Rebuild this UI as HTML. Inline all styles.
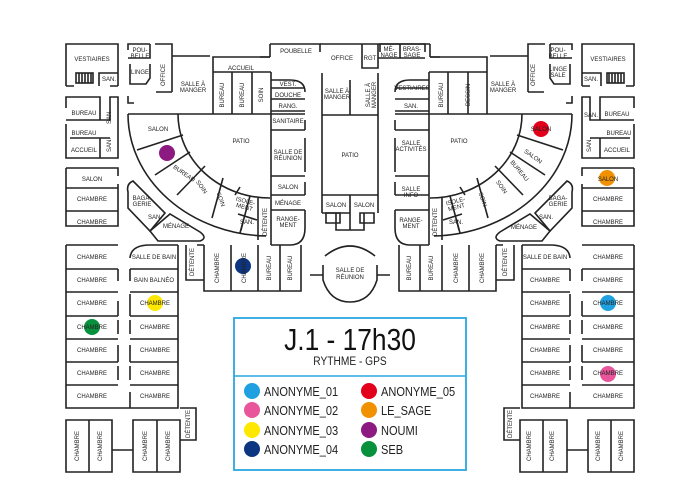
<!DOCTYPE html>
<html><head><meta charset="utf-8"><style>
html,body{margin:0;padding:0;background:#fff}
svg{display:block}
.w{fill:none;stroke:#222;stroke-width:1.6}
text{font-family:"Liberation Sans",sans-serif;fill:#222}
.l{font-size:6px;text-anchor:middle}
</style></head><body>
<svg width="700" height="500" viewBox="0 0 700 500" xmlns="http://www.w3.org/2000/svg">
<defs>
<g id="half">
 <path class="w" d="M66,86 V44 H118 V86 M66,86 H74 M118,86 H110 M99,86 V73 H118"/>
 <rect class="w" x="76" y="73" width="17" height="10"/>
 <path class="w" d="M79,73 V83 M82,73 V83 M85,73 V83 M88,73 V83 M91,73 V83"/>
 <path class="w" d="M128,50 V44 H150 M155,44 H172 V92 M128,58 H150 V44 M130,64 V84 H146 L150,78 V64 M128,96 V103 H134 M172,92 H156 M172,56 H210"/>
 <path class="w" d="M66,108 V97 H100 V120 H110 V97 H118 V158 H100 V138 H110 M100,120 H66 M66,124 V158 H100 M70,138 H100 M66,138 V140"/>
 <path class="w" d="M66,168 H118 V176 M118,184 V226 H66 V168 M66,188 H118 M66,211 H118"/>
 <path class="w" d="M128,114 H305 M213,114 V57 H270 M232,72 V114 M252,72 V114 M271,72 V245 M271,72 H213"/>
 <path class="w" d="M271,80 H290 Q305,80 305,92 M271,99 H305 M271,88 H305 M271,111 H305 M271,130 H305 M305,120 V130 M305,138 V172 M271,176 H305 M305,182 V195 M271,195 H305 M271,210 H305 M305,210 V228 Q305,245 290,245 H271"/>
 <path class="w" d="M270,44 H320 V52 M270,44 V57 M270,57 H260"/>
 <path class="w" d="M178,114 A92,84 0 0 0 270,198"/>
 <path class="w" d="M128,114 A142,122 0 0 0 266,236"/>
 <path class="w" d="M183,135 L137,150 M190,152 L155,175 M205,166 L177,195 M223,178 L212,218 M240,187 L235,195 M250,196 L240,233 M258,198 V240"/>
 <path class="w" d="M238,214 L257,220 M243,222 L241,230"/>
 <path class="w" d="M133,181 Q126,184 128,192 V208 L150,231 L165,213 L133,181 Z"/>
 <path class="w" d="M150,231 L158,241 H200 Q208,238 200,232 L170,214 Z"/>
 <path class="w" d="M66,245 H118 M66,245 V408 H178 V245 M66,269 H118 M66,292 H118 M66,316 H118 M66,339 H118 M66,362 H118 M66,385 H118 M118,269 V281 M118,301 V316 M118,320 V334 M118,345 V362 M118,366 V380 M130,269 V281 M130,294 V316 M130,320 V334 M130,345 V362 M130,366 V380 M130,392 V408 M130,269 H178 M130,292 H178 M130,316 H178 M130,339 H178 M130,362 H178 M130,385 H178 M130,258 Q131,245 150,245 H178"/>
 <path class="w" d="M66,420 H112 V472 H66 Z M89,420 V472 M133,420 H180 V472 H133 Z M157,420 V472 M112,450 H133 M180,408 H196 V440 H180"/>
 <path class="w" d="M186,245 V280 H204 M204,245 V291 H301 V245 M231,245 V291 M258,245 V291 M280,245 V291 M197,245 H204"/>
</g>
</defs>
<use href="#half"/>
<use href="#half" transform="translate(700,0) scale(-1,1)"/>
<path class="w" d="M320,44 H425 V52 M362,44 V68 H378 V44 M378,58 H425 M400,44 V58 M322,73 V195 M378,73 V195 M322,115 H378 M350,80 V115 M322,195 H378 V213 M322,195 V213 M350,195 V213 H322 M336,213 V230 H364 V213 M350,213 V230"/>
<path class="w" d="M326,213 h14 v10 h-14z M360,213 h14 v10 h-14z"/>
<path class="w" d="M325,256 Q350,236 375,256 M323,265 V280 Q330,302 350,302 Q370,302 377,280 V265 M310,275 H323 M377,275 H390"/>
<rect x="234" y="318" width="232" height="152" fill="none" stroke="#29a8e0" stroke-width="1.8"/>
<line x1="234" y1="376" x2="466" y2="376" stroke="#29a8e0" stroke-width="1.5"/>
<text x="350" y="350" font-size="31" text-anchor="middle" transform="translate(350,0) scale(0.85,1) translate(-350,0)" style="fill:#111">J.1 - 17h30</text>
<text x="350" y="365" font-size="12" text-anchor="middle" transform="translate(350,0) scale(0.85,1) translate(-350,0)">RYTHME - GPS</text>
<g font-size="13">
<circle cx="252" cy="391" r="8" fill="#1fa0e0"/><text x="264" y="396" transform="translate(264,0) scale(0.85,1) translate(-264,0)">ANONYME_01</text>
<circle cx="252" cy="410" r="8" fill="#e8559a"/><text x="264" y="415" transform="translate(264,0) scale(0.85,1) translate(-264,0)">ANONYME_02</text>
<circle cx="252" cy="430" r="8" fill="#ffe800"/><text x="264" y="435" transform="translate(264,0) scale(0.85,1) translate(-264,0)">ANONYME_03</text>
<circle cx="252" cy="449" r="8" fill="#0c3682"/><text x="264" y="454" transform="translate(264,0) scale(0.85,1) translate(-264,0)">ANONYME_04</text>
<circle cx="369" cy="391" r="8" fill="#e3001b"/><text x="381" y="396" transform="translate(381,0) scale(0.85,1) translate(-381,0)">ANONYME_05</text>
<circle cx="369" cy="410" r="8" fill="#f29100"/><text x="381" y="415" transform="translate(381,0) scale(0.85,1) translate(-381,0)">LE_SAGE</text>
<circle cx="369" cy="430" r="8" fill="#8c1a80"/><text x="381" y="435" transform="translate(381,0) scale(0.85,1) translate(-381,0)">NOUMI</text>
<circle cx="369" cy="449" r="8" fill="#07913c"/><text x="381" y="454" transform="translate(381,0) scale(0.85,1) translate(-381,0)">SEB</text>
</g>
<circle cx="167" cy="153" r="8" fill="#8c1a80"/>
<circle cx="541" cy="129" r="8" fill="#e3001b"/>
<circle cx="607" cy="178" r="8" fill="#f29100"/>
<circle cx="243" cy="266" r="8" fill="#0c3682"/>
<circle cx="155" cy="303" r="8" fill="#ffe800"/>
<circle cx="92" cy="327" r="8" fill="#07913c"/>
<circle cx="608" cy="303" r="8" fill="#1fa0e0"/>
<circle cx="608" cy="374" r="8" fill="#e8559a"/>
<g class="l">
<text x="92" y="61">VESTIAIRES</text><text x="109" y="81">SAN.</text>
<text x="140" y="52">POU-</text><text x="140" y="58">BELLE</text><text x="140" y="74">LINGE</text>
<text x="193" y="86">SALLE À</text><text x="193" y="92">MANGER</text>
<text x="241" y="70">ACCUEIL</text><text x="296" y="53">POUBELLE</text>
<text x="288" y="86">VEST.</text><text x="288" y="97">DOUCHE</text><text x="288" y="108">RANG.</text>
<text x="288" y="123">SANITAIRE</text><text x="288" y="154">SALLE DE</text><text x="288" y="160">RÉUNION</text>
<text x="288" y="189">SALON</text><text x="288" y="205">MÉNAGE</text><text x="288" y="221">RANGE-</text><text x="288" y="227">MENT</text>
<text x="84" y="115">BUREAU</text><text x="84" y="135">BUREAU</text><text x="84" y="152">ACCUEIL</text>
<text x="92" y="181">SALON</text><text x="92" y="201">CHAMBRE</text><text x="92" y="224">CHAMBRE</text>
<text x="158" y="131">SALON</text><text x="241" y="143">PATIO</text>
<text x="142" y="200">BAGA-</text><text x="142" y="206">GERIE</text><text x="176" y="228">MÉNAGE</text>
<text x="342" y="60">OFFICE</text><text x="370" y="60">RGT</text><text x="389" y="51">MÉ-</text><text x="389" y="57">NAGE</text>
<text x="412" y="51">BRAS-</text><text x="412" y="57">SAGE</text>
<text x="337" y="93">SALLE À</text><text x="337" y="99">MANGER</text><text x="350" y="157">PATIO</text>
<text x="336" y="207">SALON</text><text x="364" y="207">SALON</text>
<text x="350" y="272">SALLE DE</text><text x="350" y="279">RÉUNION</text>
<text x="412" y="90">VESTIAIRES</text><text x="411" y="108">SAN.</text>
<text x="411" y="145">SALLE</text><text x="411" y="151">ACTIVITÉS</text><text x="411" y="191">SALLE</text><text x="411" y="197">INFO</text>
<text x="411" y="222">RANGE-</text><text x="411" y="228">MENT</text>
<text x="503" y="86">SALLE À</text><text x="503" y="92">MANGER</text><text x="459" y="143">PATIO</text>
<text x="558" y="52">POU-</text><text x="558" y="58">BELLE</text><text x="558" y="71">LINGE</text><text x="558" y="77">SALE</text>
<text x="608" y="61">VESTIAIRES</text><text x="591" y="81">SAN.</text>
<text x="591" y="117">SAN.</text><text x="617" y="116">BUREAU</text><text x="619" y="135">BUREAU</text><text x="617" y="152">ACCUEIL</text>
<text x="541" y="131">SALON</text><text x="608" y="181">SALON</text><text x="608" y="201">CHAMBRE</text><text x="608" y="224">CHAMBRE</text>
<text x="558" y="200">BAGA-</text><text x="558" y="206">GERIE</text><text x="524" y="229">MÉNAGE</text>
<text x="154" y="259">SALLE DE BAIN</text><text x="154" y="282">BAIN BALNÉO</text><text x="545" y="259">SALLE DE BAIN</text>
<text x="92" y="259">CHAMBRE</text><text x="92" y="282">CHAMBRE</text><text x="92" y="305">CHAMBRE</text><text x="92" y="329">CHAMBRE</text><text x="92" y="352">CHAMBRE</text><text x="92" y="375">CHAMBRE</text><text x="92" y="398">CHAMBRE</text>
<text x="155" y="305">CHAMBRE</text><text x="155" y="329">CHAMBRE</text><text x="155" y="352">CHAMBRE</text><text x="155" y="375">CHAMBRE</text><text x="155" y="398">CHAMBRE</text>
<text x="545" y="282">CHAMBRE</text><text x="545" y="305">CHAMBRE</text><text x="545" y="329">CHAMBRE</text><text x="545" y="352">CHAMBRE</text><text x="545" y="375">CHAMBRE</text><text x="545" y="398">CHAMBRE</text>
<text x="608" y="259">CHAMBRE</text><text x="608" y="282">CHAMBRE</text><text x="608" y="305">CHAMBRE</text><text x="608" y="329">CHAMBRE</text><text x="608" y="352">CHAMBRE</text><text x="608" y="375">CHAMBRE</text><text x="608" y="398">CHAMBRE</text>
<text transform="translate(165,75) rotate(-90)">OFFICE</text>
<text transform="translate(535,75) rotate(-90)">OFFICE</text>
<text transform="translate(224,95) rotate(-90)">BUREAU</text><text transform="translate(244,95) rotate(-90)">BUREAU</text><text transform="translate(263,95) rotate(-90)">SOIN</text>
<text transform="translate(443,95) rotate(-90)">BUREAU</text><text transform="translate(470,95) rotate(-90)">DESSIN</text>
<text transform="translate(370,95) rotate(-90)">SALLE À</text><text transform="translate(376,95) rotate(-90)">MANGER</text>
<text transform="translate(111,117) rotate(-90)">SAN.</text><text transform="translate(111,145) rotate(-90)">SAN.</text><text transform="translate(591,145) rotate(-90)">SAN.</text>
<text transform="translate(267,222) rotate(-90)">DÉTENTE</text><text transform="translate(437,222) rotate(-90)">DÉTENTE</text>
<text transform="translate(183,175) rotate(35)">BUREAU</text><text transform="translate(200,188) rotate(55)">SOIN</text><text transform="translate(219,200) rotate(70)">SOIN</text>
<text transform="translate(245,203) rotate(15)">ISOLE-</text><text transform="translate(244,209) rotate(15)">MENT</text><text x="247" y="224">SAN.</text><text x="155" y="219">SAN.</text>
<text transform="translate(532,158) rotate(35)">SALON</text>
<text transform="translate(518,172) rotate(50)">BUREAU</text><text transform="translate(500,188) rotate(55)">SOIN</text><text transform="translate(481,200) rotate(70)">SOIN</text>
<text transform="translate(456,203) rotate(-15)">ISOLE-</text><text transform="translate(457,209) rotate(-15)">MENT</text><text x="456" y="224">SAN.</text><text x="546" y="219">SAN.</text>
<text transform="translate(194,262) rotate(-90)">DÉTENTE</text>
<text transform="translate(219,268) rotate(-90)">CHAMBRE</text><text transform="translate(246,268) rotate(-90)">CHAMBRE</text>
<text transform="translate(271,268) rotate(-90)">BUREAU</text><text transform="translate(292,268) rotate(-90)">BUREAU</text>
<text transform="translate(411,268) rotate(-90)">BUREAU</text><text transform="translate(433,268) rotate(-90)">BUREAU</text>
<text transform="translate(458,268) rotate(-90)">CHAMBRE</text><text transform="translate(484,268) rotate(-90)">CHAMBRE</text><text transform="translate(507,262) rotate(-90)">DÉTENTE</text>
<text transform="translate(79,446) rotate(-90)">CHAMBRE</text><text transform="translate(102,446) rotate(-90)">CHAMBRE</text>
<text transform="translate(147,446) rotate(-90)">CHAMBRE</text><text transform="translate(170,446) rotate(-90)">CHAMBRE</text>
<text transform="translate(190,424) rotate(-90)">DÉTENTE</text><text transform="translate(512,424) rotate(-90)">DÉTENTE</text>
<text transform="translate(531,446) rotate(-90)">CHAMBRE</text><text transform="translate(554,446) rotate(-90)">CHAMBRE</text>
<text transform="translate(600,446) rotate(-90)">CHAMBRE</text><text transform="translate(623,446) rotate(-90)">CHAMBRE</text>
</g>
</svg>
</body></html>
